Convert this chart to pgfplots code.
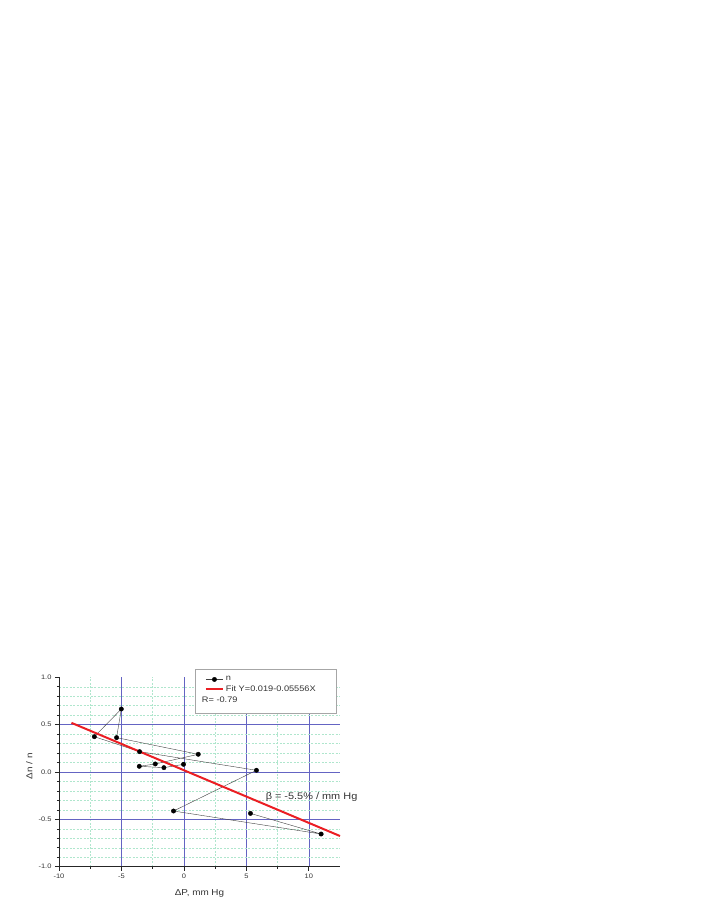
\documentclass[border=0pt]{standalone}
\usepackage{fontspec}
\setmainfont{Liberation Sans}[FakeStretch=1.15]
\usepackage{pgfplots}
\pgfplotsset{compat=1.18}
\definecolor{majgrid}{RGB}{100,100,195}
\definecolor{mingrid}{RGB}{175,230,205}
\definecolor{fitred}{RGB}{235,30,35}
\begin{document}
\begin{tikzpicture}
\useasboundingbox (0,0) rectangle (708pt,917pt);
\begin{axis}[
  at={(59pt,50.3pt)}, anchor=south west,
  scale only axis, width=281pt, height=189.4pt,
  xmin=-10, xmax=12.5, ymin=-1, ymax=1,
  axis x line=bottom, axis y line=left,
  axis line style={-, black!85, line width=0.8pt},
  clip=false,
  xtick={-10,-5,0,5,10},
  minor xtick={-7.5,-2.5,2.5,7.5},
  ytick={-1,-0.5,0,0.5},
  extra y ticks={1},
  extra y tick style={grid=none},
  minor ytick={-0.9,-0.8,-0.7,-0.6,-0.4,-0.3,-0.2,-0.1,0.1,0.2,0.3,0.4,0.6,0.7,0.8,0.9},
  grid=both,
  major grid style={majgrid, line width=0.5pt},
  minor grid style={mingrid, dash pattern=on 2pt off 1.5pt, line width=0.45pt},
  tick align=outside,
  major tick length=4pt, minor tick length=2.2pt,
  tick style={black!85, line width=0.6pt},
  /pgf/number format/assume math mode=true,
  xticklabel style={font=\fontsize{6.5}{7}\selectfont, text=black!80},
  yticklabel style={font=\fontsize{6.5}{7}\selectfont, text=black!80,
    /pgf/number format/.cd, fixed, fixed zerofill, precision=1},
  xlabel={ΔP, mm Hg},
  ylabel={Δn / n},
  xlabel style={at={(axis description cs:0.5,-0.139)}, anchor=center, font=\fontsize{8.6}{10}\selectfont, text=black!80},
  ylabel style={at={(axis description cs:-0.1057,0.53)}, anchor=center, font=\fontsize{8.6}{10}\selectfont, text=black!80},
  legend cell align=left,
  legend style={at={(rel axis cs:0.4865,1.042)}, anchor=north west,
    draw=none, fill=none, font=\fontsize{8}{9}\selectfont, text=black!80,
    inner xsep=9pt, inner ysep=5pt, row sep=-0.5pt},
]
\draw[gray!70, fill=white, line width=0.6pt] (rel axis cs:0.4865,1.042) rectangle (rel axis cs:0.9883,0.810);
\addplot[black!75, line width=0.4pt, mark=*, mark size=2.2pt, mark options={fill=black, draw=black, solid}] coordinates {
  (-0.03,0.081) (-1.60,0.046) (-3.57,0.060) (-2.29,0.085) (1.15,0.187)
  (-5.39,0.363) (-5.01,0.665) (-7.17,0.373) (-3.55,0.215) (5.81,0.018)
  (-0.83,-0.412) (10.99,-0.655) (5.33,-0.437)
};
\addlegendentry{n}
\addplot[fitred, line width=2pt] coordinates {(-9,0.519) (12.5,-0.676)};
\addlegendentry{Fit Y=0.019-0.05556X}
\addlegendimage{empty legend}
\addlegendentry{\hspace{-24pt}R= -0.79}
\node[anchor=base west, inner sep=0pt, font=\fontsize{9.5}{11}\selectfont, text=black!80] at (axis cs:6.54,-0.288) {β = -5.5\% / mm Hg};
\end{axis}
\end{tikzpicture}
\end{document}
